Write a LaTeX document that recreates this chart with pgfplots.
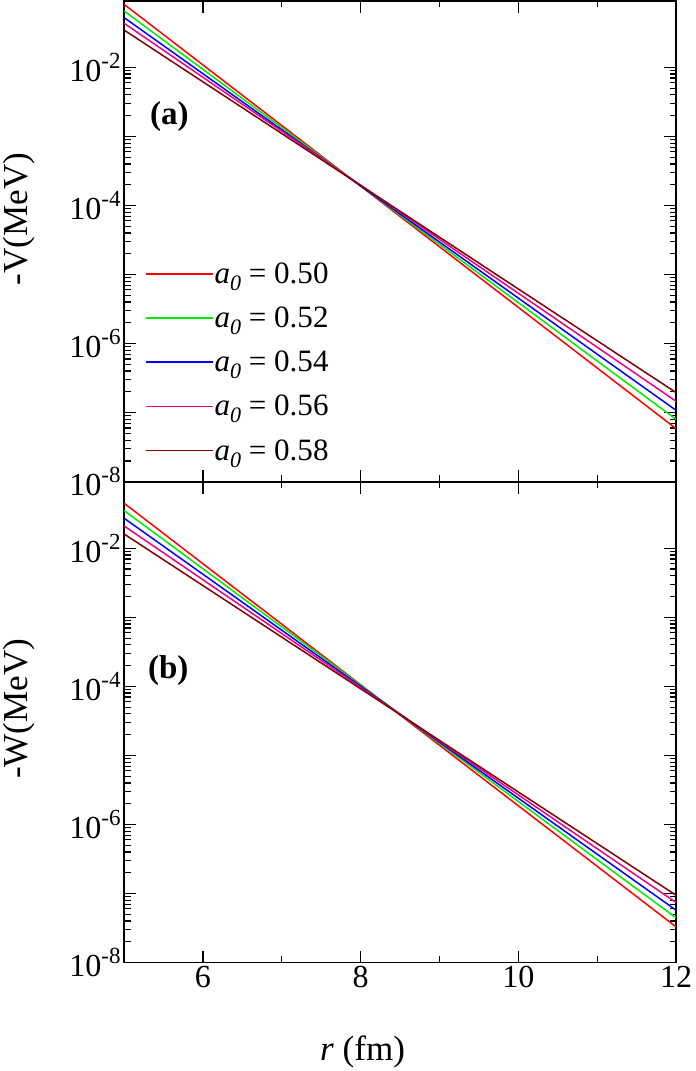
\documentclass[border=0pt]{standalone}
\usepackage{fontspec}
\setmainfont{Liberation Serif}
\usepackage{pgfplots}
\pgfplotsset{compat=1.18}
\definecolor{maroon}{RGB}{128,0,0}
\definecolor{pgreen}{RGB}{0,235,0}
\newcommand\ten[1]{10\raisebox{0.4em}{\fontsize{23}{23}\selectfont #1}}
\newcommand\az[1]{\textit{a}\raisebox{-0.22em}{\fontsize{22}{22}\selectfont\itshape 0}\ = #1}
\pgfplotsset{
  width=551pt, height=480pt, scale only axis,
  xmin=5, xmax=12, ymin=1e-8, ymax=0.092,
  xtick={6,8,10,12}, minor xtick={5,7,9,11},
  tick align=inside, tick pos=both,
  major tick length=12pt, minor tick length=6.5pt,
  axis line style={line width=1.6pt},
  major tick style={line width=1.4pt, black},
  minor tick style={line width=1.2pt, black},
  tick label style={font=\fontsize{32}{32}\selectfont},
  label style={font=\fontsize{35}{35}\selectfont},
  /pgf/number format/assume math mode=true,
  every axis plot/.append style={line width=1.5pt},
}
\begin{document}
\begin{tikzpicture}
\begin{axis}[ymode=log, name=top, xticklabels={},
  ytickten={-8,-7,...,-2},
  yticklabels={\ten{-8},,\ten{-6},,\ten{-4},,\ten{-2}},
  ylabel={-V(MeV)},
  ylabel style={at={(axis description cs:-0.19,0.546)}, anchor=center},
  legend style={at={(axis description cs:0.032,0.462)}, anchor=north west, draw=none, fill=none,
    font=\fontsize{31}{31}\selectfont, row sep=20pt, nodes={inner sep=1pt}},
  legend cell align=left,
  legend image code/.code={\draw[mark repeat=2,mark phase=2,#1] plot coordinates {(0pt,0pt) (33pt,0pt) (67pt,0pt)};},
]
\addplot[color=red] coordinates {(5,0.0818) (8,1.903e-4) (12,5.86e-8)};
\addlegendentry{\az{0.50}}
\addplot[color=pgreen] coordinates {(5,0.0655) (8,1.914e-4) (12,8.0e-8)};
\addlegendentry{\az{0.52}}
\addplot[color=blue] coordinates {(5,0.0525) (8,1.918e-4) (12,1.079e-7)};
\addlegendentry{\az{0.54}}
\addplot[color=magenta] coordinates {(5,0.04345) (8,1.959e-4) (12,1.459e-7)};
\addlegendentry{\az{0.56}}
\addplot[color=maroon] coordinates {(5,0.03467) (8,1.95e-4) (12,1.95e-7)};
\addlegendentry{\az{0.58}}
\node[font=\bfseries\fontsize{33}{33}\selectfont] at (rel axis cs:0.082,0.76) {(a)};
\end{axis}
\begin{axis}[ymode=log, at={(top.south west)}, anchor=north west,
  ytickten={-8,-7,...,-2},
  yticklabels={\ten{-8},,\ten{-6},,\ten{-4},,\ten{-2}},
  xlabel={\textit{r} (fm)},
  xlabel style={at={(axis description cs:0.432,-0.185)}, anchor=center},
  ylabel={-W(MeV)},
  ylabel style={at={(axis description cs:-0.19,0.528)}, anchor=center},
]
\addplot[color=red] coordinates {(5,0.0449) (8.5,3.85e-5) (12,3.29e-8)};
\addplot[color=pgreen] coordinates {(5,0.0352) (8.5,3.95e-5) (12,4.45e-8)};
\addplot[color=blue] coordinates {(5,0.0272) (8.5,3.95e-5) (12,5.73e-8)};
\addplot[color=magenta] coordinates {(5,0.02104) (8.5,3.95e-5) (12,7.41e-8)};
\addplot[color=maroon] coordinates {(5,0.0161) (8.5,3.90e-5) (12,9.44e-8)};
\node[font=\bfseries\fontsize{33}{33}\selectfont] at (rel axis cs:0.08,0.607) {(b)};
\end{axis}
\end{tikzpicture}
\end{document}
